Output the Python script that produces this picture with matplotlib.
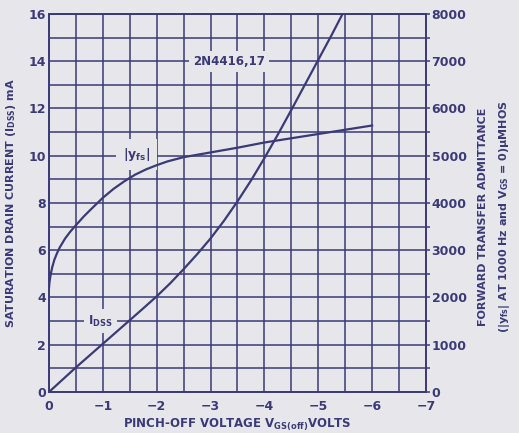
import matplotlib

matplotlib.use("Agg")

import matplotlib.pyplot as plt
import numpy as np

# Data (2N4416, 2N4417)
vgs_off = [0, -0.25, -0.5, -0.75, -1.0, -1.25, -1.5, -1.75, -2.0, -2.25, -2.5,
           -2.75, -3.0, -3.25, -3.5, -3.75, -4.0, -4.25, -4.5, -4.75, -5.0,
           -5.25, -5.45]
idss_ma = [0, 0.52, 1.04, 1.54, 2.04, 2.54, 3.04, 3.54, 4.05, 4.6, 5.2, 5.83,
           6.5, 7.25, 8.07, 8.95, 9.9, 10.9, 11.94, 13.0, 14.06, 15.12, 16.0]

vgs_yfs = [0, -0.01, -0.03, -0.06, -0.1, -0.15, -0.2, -0.3, -0.4, -0.5, -0.65,
           -0.8, -1.0, -1.2, -1.4, -1.6, -1.8, -2.0, -2.2, -2.5, -2.8, -3.0,
           -3.5, -4.0, -4.5, -5.0, -5.5, -6.0]
yfs_umho = [2200, 2330, 2480, 2640, 2800, 2940, 3060, 3250, 3400, 3530, 3720,
            3890, 4110, 4300, 4460, 4600, 4710, 4800, 4880, 4970, 5030, 5070,
            5170, 5280, 5370, 5460, 5550, 5640]

x_ticks = [0, -1, -2, -3, -4, -5, -6, -7]
x_labels = ["0", "\u22121", "\u22122", "\u22123", "\u22124", "\u22125", "\u22126", "\u22127"]
left_ticks = [0, 2, 4, 6, 8, 10, 12, 14, 16]
right_ticks = [0, 1000, 2000, 3000, 4000, 5000, 6000, 7000, 8000]

BG = "#e7e7eb"
INK = "#3a3a78"

plt.rcParams["font.family"] = ["DejaVu Sans"]
plt.rcParams["font.weight"] = "bold"
plt.rcParams["axes.labelweight"] = "bold"
plt.rcParams["mathtext.default"] = "regular"

fig = plt.figure(figsize=(5.19, 4.33), dpi=100, facecolor=BG)
ax = fig.add_axes([0.0944, 0.0947, 0.7264, 0.873])
ax.set_facecolor(BG)
ax2 = ax.twinx()

ax.set_xlim(0, -7)
ax.set_ylim(0, 16)
ax2.set_ylim(0, 8000)

ax.set_xticks(x_ticks)
ax.set_xticklabels(x_labels)
ax.set_xticks(np.arange(0, -7.01, -0.5), minor=True)
ax.set_yticks(left_ticks)
ax.set_yticks(np.arange(0, 16.01, 1), minor=True)
ax2.set_yticks(right_ticks)
ax2.set_yticks(np.arange(0, 8001, 500), minor=True)

ax.grid(which="both", color=INK, linewidth=1.1)
ax.set_axisbelow(True)
for a in (ax, ax2):
    for s in a.spines.values():
        s.set_color(INK)
        s.set_linewidth(1.2)
ax.tick_params(which="both", length=0, colors=INK, labelsize=9)
ax.tick_params(axis="y", pad=2)
ax.tick_params(axis="x", pad=6)
ax2.tick_params(which="both", length=3, width=1.1, colors=INK, labelsize=9, pad=1)

ax.plot(vgs_off, idss_ma, color=INK, linewidth=1.6, zorder=4)
ax2.plot(vgs_yfs, yfs_umho, color=INK, linewidth=1.6, zorder=4)

box = dict(facecolor=BG, edgecolor="none", pad=3)
ax.text(-3.35, 14, "2N4416,17", color=INK, fontsize=8.5, ha="center", va="center",
        bbox=box, zorder=3)
ax.text(-1.62, 10.05, r"$|y_{fs}|$", color=INK, fontsize=9, ha="center", va="center",
        bbox=dict(facecolor=BG, edgecolor="none", pad=5), zorder=3)
ax.text(-0.95, 3.0, r"$I_{DSS}$", color=INK, fontsize=8.5, ha="center", va="center",
        bbox=box, zorder=3)

ax.set_xlabel(r"PINCH-OFF VOLTAGE $V_{GS(off)}$VOLTS", color=INK, fontsize=8.5, labelpad=2)
ax.set_ylabel(r"SATURATION DRAIN CURRENT $(I_{DSS})$ mA", color=INK, fontsize=8, labelpad=8)
fig.text(0.93, 0.5, "FORWARD TRANSFER ADMITTANCE", rotation=90, color=INK,
         fontsize=8, fontweight="bold", ha="center", va="center")
fig.text(0.972, 0.5, r"$(|y_{fs}|$ AT 1000 Hz and $V_{GS}$ = 0$)\mu$MHOS", rotation=90,
         color=INK, fontsize=8, fontweight="bold", ha="center", va="center")

fig.savefig("out.png", dpi=100, facecolor=BG)
